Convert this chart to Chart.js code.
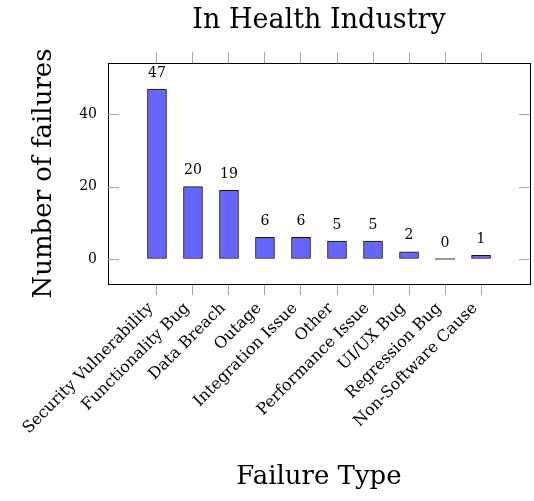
<!DOCTYPE html>
<html>
<head>
<meta charset="utf-8">
<script src="https://cdn.jsdelivr.net/npm/chart.js@4.4.1/dist/chart.umd.min.js"></script>
<style>
  html, body { margin: 0; padding: 0; background: #fff; }
</style>
</head>
<body>
<canvas id="chartFallas" width="534" height="501"></canvas>
<script>
// Datos del gráfico
const categorias = ['Security Vulnerability', 'Functionality Bug', 'Data Breach', 'Outage',
    'Integration Issue', 'Other', 'Performance Issue', 'UI/UX Bug', 'Regression Bug', 'Non-Software Cause'];
const fallas = [47, 20, 19, 6, 6, 5, 5, 2, 0, 1];
const ticksY = [0, 20, 40];

const serif = 'DejaVu Serif';
const gris = '#a8a8a8';

// Posiciones de las categorias en el eje x (0..n-1)
const posiciones = categorias.map((c, i) => i);
const xTicks = scale => { scale.ticks = posiciones.map(v => ({ value: v })); };

// Ticks del eje y hacia dentro (estilo pgfplots)
const ticksInternos = {
    id: 'ticksInternos',
    afterDraw(chart) {
        const { ctx, chartArea } = chart;
        const y = chart.scales.y;
        ctx.save();
        ctx.strokeStyle = gris;
        ctx.lineWidth = 1;
        ticksY.forEach(v => {
            const py = Math.round(y.getPixelForValue(v)) + 0.5;
            ctx.beginPath();
            ctx.moveTo(chartArea.left, py);
            ctx.lineTo(chartArea.left + 11, py);
            ctx.moveTo(chartArea.right - 11, py);
            ctx.lineTo(chartArea.right, py);
            ctx.stroke();
        });
        ctx.restore();
    }
};

// Valores encima de cada barra
const etiquetas = {
    id: 'etiquetas',
    afterDatasetsDraw(chart) {
        const { ctx } = chart;
        const meta = chart.getDatasetMeta(0);
        ctx.save();
        ctx.font = '14px "' + serif + '"';
        ctx.fillStyle = '#000';
        ctx.textAlign = 'center';
        ctx.textBaseline = 'middle';
        meta.data.forEach((bar, i) => {
            const y0 = chart.scales.y.getPixelForValue(fallas[i]);
            ctx.fillText(String(fallas[i]), bar.x, y0 - 16);
        });
        ctx.restore();
    }
};

const ctx = document.getElementById('chartFallas').getContext('2d');
const chartFallas = new Chart(ctx, {
    type: 'bar',
    data: {
        datasets: [{
            label: 'Failures',
            data: fallas.map((v, i) => ({ x: posiciones[i], y: v })),
            backgroundColor: 'rgb(102, 102, 255)',
            borderColor: '#111',
            borderWidth: 1,
            borderSkipped: false,
            barThickness: 19,
            minBarLength: 1
        }]
    },
    options: {
        responsive: false,
        animation: false,
        layout: { padding: 0 },
        plugins: {
            legend: { display: false },
            tooltip: { enabled: false },
            title: {
                display: true,
                text: 'In Health Industry',
                fullSize: false,
                color: '#000',
                font: { family: serif, size: 27, weight: 'normal' },
                padding: { top: 5, bottom: 0 }
            }
        },
        scales: {
            x: {
                type: 'linear',
                position: 'bottom',
                offset: false,
                min: -1.36,
                max: 10.36,
                afterBuildTicks: xTicks,
                afterFit: s => { s.height = 217; },
                grid: { offset: false, drawOnChartArea: false, drawTicks: true, tickLength: 11, color: gris },
                border: { display: true, color: '#000', width: 1 },
                ticks: {
                    autoSkip: false,
                    minRotation: 45,
                    maxRotation: 45,
                    padding: 4,
                    labelOffset: -6,
                    color: '#000',
                    font: { family: serif, size: 16 },
                    callback: v => categorias[v]
                },
                title: {
                    display: true,
                    text: 'Failure Type',
                    color: '#000',
                    font: { family: serif, size: 26 },
                    padding: { top: 0, bottom: 8 }
                }
            },
            x2: {
                type: 'linear',
                position: 'top',
                offset: false,
                min: -1.36,
                max: 10.36,
                afterBuildTicks: xTicks,
                afterFit: s => { s.height = 25.6; },
                grid: { offset: false, drawOnChartArea: false, drawTicks: true, tickLength: 11, color: gris },
                border: { display: true, color: '#000', width: 1 },
                ticks: { display: false }
            },
            y: {
                position: 'left',
                min: -6.9,
                max: 54.2,
                afterBuildTicks: s => { s.ticks = ticksY.map(v => ({ value: v })); },
                afterFit: s => { s.width = 108; },
                grid: { drawOnChartArea: false, drawTicks: false },
                border: { display: true, color: '#000', width: 1 },
                ticks: { padding: 11, color: '#000', font: { family: serif, size: 14 } },
                title: {
                    display: true,
                    text: 'Number of failures',
                    color: '#000',
                    font: { family: serif, size: 26 },
                    padding: { top: 29, bottom: 0 }
                }
            },
            y2: {
                position: 'right',
                min: -6.9,
                max: 54.2,
                afterFit: s => { s.width = 4; },
                grid: { drawOnChartArea: false, drawTicks: false },
                border: { display: true, color: '#000', width: 1 },
                ticks: { display: false }
            }
        }
    },
    plugins: [ticksInternos, etiquetas]
});
</script>
</body>
</html>
